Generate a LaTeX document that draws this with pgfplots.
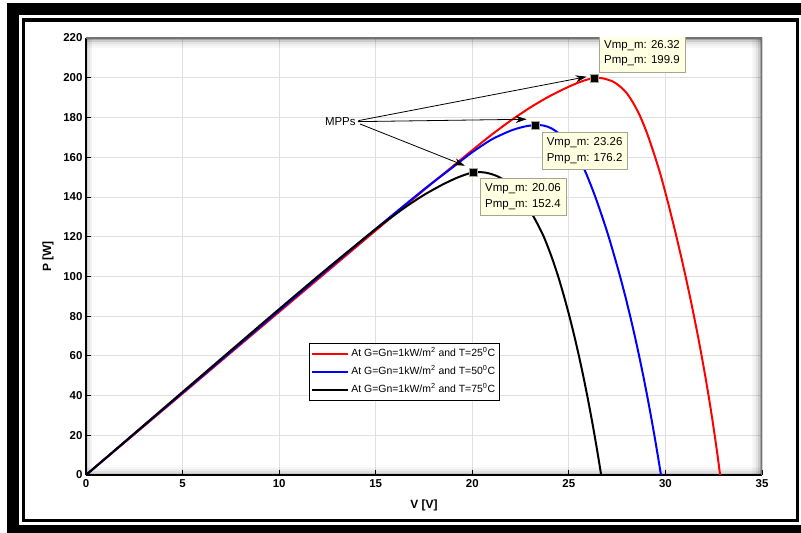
\documentclass[border=0pt]{standalone}
\usepackage{fontspec}
\setmainfont{Liberation Sans}
\usepackage{pgfplots}
\pgfplotsset{compat=1.18}
\usetikzlibrary{arrows.meta}
\definecolor{tipbg}{RGB}{255,255,225}
\definecolor{tipbd}{RGB}{165,165,145}
\definecolor{gridc}{RGB}{224,224,224}
\begin{document}
\begin{tikzpicture}
\fill[white] (0bp,0bp) rectangle (801bp,533bp);
\useasboundingbox (0bp,0bp) rectangle (801bp,533bp);
% outer frame
\fill[black] (7.3bp,518bp) rectangle (801bp,529.7bp);
\fill[black] (7.3bp,0bp) rectangle (19.3bp,529.7bp);
\fill[black] (7.3bp,0bp) rectangle (801bp,8bp);
\draw[black, line width=3.5bp] (23.6bp,12.5bp) rectangle (797.6bp,513bp);
\begin{axis}[
  at={(86bp,58bp)}, anchor=south west, scale only axis,
  width=676bp, height=437bp,
  xmin=0, xmax=35, ymin=0, ymax=220,
  xtick={0,5,...,35}, ytick={0,20,...,220},
  axis x line*=bottom, axis y line*=left,
  axis line style={black, line width=1.5bp},
  tick align=inside, major tick length=5bp,
  tick style={black, line width=0.8bp},
  grid=major, major grid style={gridc, line width=0.8bp},
  /pgf/number format/assume math mode=true,
  ticklabel style={font=\bfseries\fontsize{11.5}{13}\selectfont},
  xticklabel style={yshift=-1bp},
  xlabel={V [V]}, ylabel={P [W]},
  label style={font=\bfseries\fontsize{12}{14}\selectfont},
  xlabel style={at={(axis description cs:0.5,-0.0686)}, anchor=center},
  ylabel style={at={(axis description cs:-0.0562,0.5)}, anchor=center},
  legend style={at={(axis description cs:0.33,0.302)}, anchor=north west,
    draw=black, line width=0.6bp, fill=white,
    font=\fontsize{10.5}{12}\selectfont, inner xsep=2bp, inner ysep=1.5bp,
    nodes={text height=8bp, text depth=2.5bp, inner ysep=3.75bp, inner xsep=2bp}},
  legend cell align=left,
  legend image code/.code={\draw[#1] (0bp,0bp) -- (36bp,0bp);},
]
% inner shadow of the box
\fill[black,opacity=0.35] (rel axis cs:0,1) rectangle ([yshift=-2bp]rel axis cs:1,1);
\fill[black,opacity=0.20] ([yshift=-2bp]rel axis cs:0,1) rectangle ([yshift=-4bp]rel axis cs:1,1);
\fill[black,opacity=0.11] ([yshift=-4bp]rel axis cs:0,1) rectangle ([yshift=-6bp]rel axis cs:1,1);
\fill[black,opacity=0.06] ([yshift=-6bp]rel axis cs:0,1) rectangle ([yshift=-8bp]rel axis cs:1,1);
\fill[black,opacity=0.03] ([yshift=-8bp]rel axis cs:0,1) rectangle ([yshift=-10bp]rel axis cs:1,1);
\fill[black,opacity=0.35] (rel axis cs:1,0) rectangle ([xshift=-2bp]rel axis cs:1,1);
\fill[black,opacity=0.20] ([xshift=-2bp]rel axis cs:1,0) rectangle ([xshift=-4bp]rel axis cs:1,1);
\fill[black,opacity=0.11] ([xshift=-4bp]rel axis cs:1,0) rectangle ([xshift=-6bp]rel axis cs:1,1);
\fill[black,opacity=0.06] ([xshift=-6bp]rel axis cs:1,0) rectangle ([xshift=-8bp]rel axis cs:1,1);
\fill[black,opacity=0.03] ([xshift=-8bp]rel axis cs:1,0) rectangle ([xshift=-10bp]rel axis cs:1,1);
\fill[black,opacity=0.22] (rel axis cs:0,0) rectangle ([yshift=2bp]rel axis cs:1,0);
\fill[black,opacity=0.13] ([yshift=2bp]rel axis cs:0,0) rectangle ([yshift=4bp]rel axis cs:1,0);
\fill[black,opacity=0.07] ([yshift=4bp]rel axis cs:0,0) rectangle ([yshift=6bp]rel axis cs:1,0);
\fill[black,opacity=0.03] ([yshift=6bp]rel axis cs:0,0) rectangle ([yshift=8bp]rel axis cs:1,0);
\fill[black,opacity=0.18] (rel axis cs:0,0) rectangle ([xshift=2bp]rel axis cs:0,1);
\fill[black,opacity=0.10] ([xshift=2bp]rel axis cs:0,0) rectangle ([xshift=4bp]rel axis cs:0,1);
\fill[black,opacity=0.05] ([xshift=4bp]rel axis cs:0,0) rectangle ([xshift=6bp]rel axis cs:0,1);
\draw[black!55, line width=1.5bp] (rel axis cs:0,1) -- (rel axis cs:1,1) -- (rel axis cs:1,0);

\addplot[red, line width=2bp, line join=round, smooth, tension=0.45] coordinates {
(0,0) (2.5,20.5) (5,41.0) (7.5,61.6) (10,82.1) (12.5,102.6) (15,123.1)
(17.5,143.5) (19,155.5) (20,163.5) (21,171.3) (22,178.5) (23,185.0)
(24,190.7) (25,195.5) (25.7,198.3) (26.32,199.9) (26.8,199.6) (27.3,198.0)
(27.65,195.6) (28.0,192.2) (28.35,187.0) (28.7,180.4) (29.05,172.0)
(29.4,162.0) (29.738,151.5) (30.057,140.0) (30.318,130.0) (30.569,120.0)
(30.811,110.0) (31.043,100.0) (31.265,90.0) (31.478,80.0) (31.681,70.0)
(31.874,60.0) (32.058,50.0) (32.232,40.0) (32.396,30.0) (32.551,20.0)
(32.696,10.0) (32.831,0)};
\addlegendentry{At G=Gn=1kW/m\textsuperscript{2} and T=25\textsuperscript{0}C}
\addplot[blue, line width=2bp, line join=round, smooth, tension=0.45] coordinates {
(0,0) (2.5,20.7) (5,41.4) (7.5,62.1) (10,82.8) (12.5,103.4) (15,123.9)
(17.5,143.8) (19,155.0) (20,162.5) (21,168.9) (22,173.4) (22.7,175.4)
(23.26,176.2) (23.7,175.9) (24.1,174.5) (24.6,171.0) (25.2,164.0)
(25.77,154.4) (26.07,147.6) (26.37,140.0) (26.72,130.2) (27.06,120.0)
(27.361,110.0) (27.651,100.0) (27.921,90.0) (28.174,80.0) (28.412,70.0)
(28.637,60.0) (28.85,50.0) (29.052,40.0) (29.244,30.0) (29.427,20.0)
(29.602,10.0) (29.77,0)};
\addlegendentry{At G=Gn=1kW/m\textsuperscript{2} and T=50\textsuperscript{0}C}
\addplot[black, line width=2bp, line join=round, smooth, tension=0.45] coordinates {
(0,0) (2.5,20.9) (5,41.8) (7.5,62.7) (10,83.5) (12.5,104.0) (15,123.8)
(16.5,134.6) (17.5,141.0) (18.5,146.4) (19.3,150.0) (20.06,152.4)
(20.7,152.2) (21.3,150.4) (21.9,146.8) (22.4,141.5) (22.9,134.6)
(23.3,127.8) (23.7,120.0) (24.1,110.0) (24.445,100.0) (24.748,90.0)
(25.026,80.0) (25.282,70.0) (25.52,60.0) (25.742,50.0) (25.95,40.0)
(26.146,30.0) (26.331,20.0) (26.506,10.0) (26.673,0)};
\addlegendentry{At G=Gn=1kW/m\textsuperscript{2} and T=75\textsuperscript{0}C}

\addplot[only marks, mark=square*, mark size=4bp,
  mark options={fill=black, draw=tipbd, line width=0.6bp}, forget plot]
  coordinates {(26.32,199.9) (23.26,176.2) (20.06,152.4)};

\node[draw=tipbd, fill=tipbg, anchor=south west, align=left, inner xsep=5bp,
  inner ysep=5.5bp, font=\fontsize{11.5}{15.7}\selectfont]
  at (axis cs:26.56,202.9) {Vmp\_m: 26.32\\Pmp\_m: 199.9};
\node[draw=tipbd, fill=tipbg, anchor=north west, align=left, inner xsep=5bp,
  inner ysep=5.5bp, font=\fontsize{11.5}{15.7}\selectfont]
  at (axis cs:23.59,172.8) {Vmp\_m: 23.26\\Pmp\_m: 176.2};
\node[draw=tipbd, fill=tipbg, anchor=north west, align=left, inner xsep=5bp,
  inner ysep=5.5bp, font=\fontsize{11.5}{15.7}\selectfont]
  at (axis cs:20.40,149.4) {Vmp\_m: 20.06\\Pmp\_m: 152.4};

\node[anchor=east, inner sep=1bp, font=\fontsize{11.5}{14}\selectfont]
  at (axis cs:14.02,177.7) {MPPs};
\draw[-{Stealth[length=11bp,width=7bp]}, line width=0.8bp]
  (axis cs:14.10,178.4) -- (axis cs:25.92,200.5);
\draw[-{Stealth[length=11bp,width=7bp]}, line width=0.8bp]
  (axis cs:14.08,177.9) -- (axis cs:22.82,179.1);
\draw[-{Stealth[length=11bp,width=7bp]}, line width=0.8bp]
  (axis cs:14.19,176.7) -- (axis cs:19.62,155.7);
\end{axis}
\end{tikzpicture}
\end{document}
